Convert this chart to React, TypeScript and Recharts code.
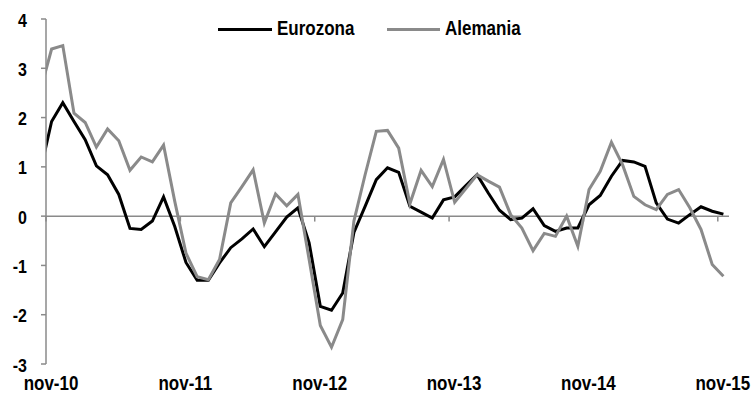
import React from "react";
import { LineChart, Line, XAxis, YAxis, ReferenceLine } from "recharts";

// Monthly categories (Spanish month abbreviations), oct-10 .. nov-15
const months = [
  "oct-10", "nov-10", "dic-10",
  "ene-11", "feb-11", "mar-11", "abr-11", "may-11", "jun-11", "jul-11", "ago-11", "sep-11", "oct-11", "nov-11", "dic-11",
  "ene-12", "feb-12", "mar-12", "abr-12", "may-12", "jun-12", "jul-12", "ago-12", "sep-12", "oct-12", "nov-12", "dic-12",
  "ene-13", "feb-13", "mar-13", "abr-13", "may-13", "jun-13", "jul-13", "ago-13", "sep-13", "oct-13", "nov-13", "dic-13",
  "ene-14", "feb-14", "mar-14", "abr-14", "may-14", "jun-14", "jul-14", "ago-14", "sep-14", "oct-14", "nov-14", "dic-14",
  "ene-15", "feb-15", "mar-15", "abr-15", "may-15", "jun-15", "jul-15", "ago-15", "sep-15", "oct-15", "nov-15",
];

const eurozona = [
  0.92, 1.92, 2.3,
  1.92, 1.55, 1.02, 0.84, 0.44, -0.25, -0.27, -0.1, 0.39, -0.21, -0.94, -1.3,
  -1.3, -0.95, -0.64, -0.46, -0.26, -0.62, -0.32, -0.02, 0.17, -0.54, -1.83, -1.91,
  -1.56, -0.33, 0.2, 0.74, 0.98, 0.89, 0.2, 0.08, -0.04, 0.33, 0.39, 0.62,
  0.84, 0.47, 0.12, -0.07, -0.04, 0.15, -0.19, -0.31, -0.24, -0.24, 0.23, 0.42,
  0.81, 1.13, 1.1, 1.01, 0.27, -0.06, -0.14, 0.03, 0.19, 0.1, 0.04,
];

const alemania = [
  2.55, 3.39, 3.46,
  2.09, 1.9, 1.4, 1.77, 1.53, 0.93, 1.2, 1.1, 1.44, 0.3, -0.75, -1.23,
  -1.29, -0.88, 0.27, 0.6, 0.94, -0.14, 0.45, 0.21, 0.44, -0.88, -2.22, -2.66,
  -2.1, -0.1, 0.84, 1.72, 1.74, 1.38, 0.25, 0.93, 0.6, 1.15, 0.28, 0.56,
  0.84, 0.71, 0.59, 0.03, -0.24, -0.7, -0.35, -0.41, 0.0, -0.61, 0.54, 0.91,
  1.5, 1.04, 0.4, 0.23, 0.13, 0.44, 0.54, 0.17, -0.27, -0.98, -1.22,
];

const tickLabels = ["nov-10", "nov-11", "nov-12", "nov-13", "nov-14", "nov-15"];
const yTicks = [-3, -2, -1, 0, 1, 2, 3, 4];

// x = months elapsed since 1-nov-10; each monthly value sits mid-month
const data = months.map((m, i) => ({
  month: m,
  x: i - 0.5,
  eurozona: eurozona[i],
  alemania: alemania[i],
}));
const xTicks = tickLabels.map((l) => months.indexOf(l) - 1);

const FONT = "'Liberation Sans', Arial, Helvetica, sans-serif";
const GRAY = "#8a8a8a";
const AXIS_GRAY = "#8a8a8a";
const STRETCH = 1.15;

const XTick = (props: any) => {
  const { x, y, payload } = props;
  const label = months[payload.value + 1];
  return (
    <g transform={`translate(${x + 5},${y}) scale(1,${STRETCH})`}>
      <text
        x={0}
        y={0}
        dy="0.71em"
        textAnchor="middle"
        fontFamily={FONT}
        fontWeight="bold"
        fontSize={17}
        fill="#000"
      >
        {label}
      </text>
    </g>
  );
};

const YTick = (props: any) => {
  const { x, y, payload } = props;
  return (
    <g transform={`translate(${x},${y + 1}) scale(1,${STRETCH})`}>
      <text
        x={0}
        y={0}
        dy="0.355em"
        textAnchor="end"
        fontFamily={FONT}
        fontWeight="bold"
        fontSize={16}
        fill="#000"
      >
        {payload.value}
      </text>
    </g>
  );
};

const LegendItem = ({ color, label, lineLeft, textLeft }: any) => (
  <>
    <div
      style={{
        position: "absolute",
        left: lineLeft,
        top: 27.5,
        width: textLeft - lineLeft - 5,
        height: 3,
        background: color,
      }}
    />
    <div
      style={{
        position: "absolute",
        left: textLeft,
        top: 18.6,
        fontFamily: FONT,
        fontWeight: "bold",
        fontSize: 17,
        lineHeight: "20px",
        color: "#000",
        whiteSpace: "nowrap",
        transform: `scaleY(${STRETCH})`,
        transformOrigin: "0 9.8px",
      }}
    >
      {label}
    </div>
  </>
);

export default function App() {
  return (
    <div style={{ position: "absolute", left: 0, top: 0, width: 753, height: 400, background: "#fff" }}>
      <LineChart
        width={753}
        height={400}
        data={data}
        margin={{ top: 19, right: 24, bottom: 0, left: 0 }}
      >
        <XAxis
          dataKey="x"
          type="number"
          domain={[0, 61]}
          allowDataOverflow
          ticks={xTicks}
          interval={0}
          axisLine={false}
          tickLine={false}
          tickSize={0}
          tickMargin={12}
          height={36}
          tick={<XTick />}
        />
        <YAxis
          type="number"
          domain={[-3, 4]}
          ticks={yTicks}
          interval={0}
          width={46}
          axisLine={{ stroke: AXIS_GRAY, strokeWidth: 1.5 }}
          tickLine={{ stroke: AXIS_GRAY, strokeWidth: 1.5 }}
          tickSize={5}
          tickMargin={14}
          tick={<YTick />}
        />
        <ReferenceLine y={0} stroke={AXIS_GRAY} strokeWidth={1.5} />
        {xTicks.map((t) => (
          <ReferenceLine
            key={t}
            segment={[
              { x: t, y: 0 },
              { x: t, y: -0.11 },
            ]}
            stroke={AXIS_GRAY}
            strokeWidth={1.5}
          />
        ))}
        <Line
          type="linear"
          dataKey="eurozona"
          stroke="#000"
          strokeWidth={3}
          dot={false}
          activeDot={false}
          isAnimationActive={false}
        />
        <Line
          type="linear"
          dataKey="alemania"
          stroke={GRAY}
          strokeWidth={3}
          dot={false}
          activeDot={false}
          isAnimationActive={false}
        />
      </LineChart>
      <LegendItem color="#000" label="Eurozona" lineLeft={218} textLeft={277} />
      <LegendItem color={GRAY} label="Alemania" lineLeft={387} textLeft={445} />
    </div>
  );
}
